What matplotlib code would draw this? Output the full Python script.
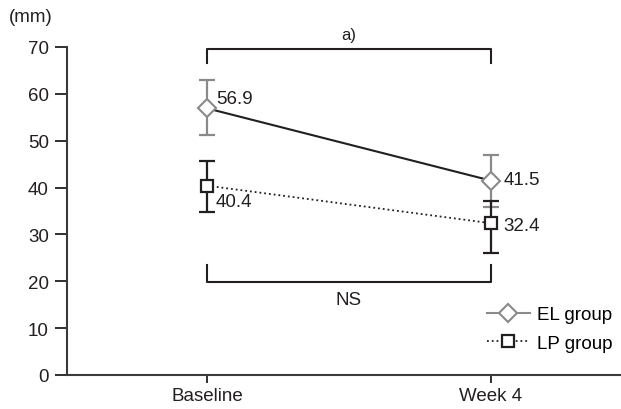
import numpy as np
import matplotlib.pyplot as plt

plt.rcParams['font.family'] = ['Liberation Sans', 'DejaVu Sans']

# Datos
groups = ["Baseline", "Week 4"]
el_mean = [56.9, 41.5]
el_lo = [5.6, 5.6]
el_hi = [6.1, 5.4]
lp_mean = [40.4, 32.4]
lp_lo = [5.6, 6.4]
lp_hi = [5.2, 4.8]
el_text = ["56.9", "41.5"]
lp_text = ["40.4", "32.4"]

x = np.arange(len(groups))
gris = "#8a8a8a"
negro = "#231f20"
fs = 13.5

fig = plt.figure(figsize=(6.21, 4.10), dpi=100)
ax = fig.add_axes([67/621, 34/410, 554/621, 328/410])

ax.errorbar(x, el_mean, yerr=[el_lo, el_hi], fmt="none", ecolor=gris,
            elinewidth=1.6, capsize=6, capthick=1.6, zorder=2)
ax.errorbar(x, lp_mean, yerr=[lp_lo, lp_hi], fmt="none", ecolor=negro,
            elinewidth=1.6, capsize=6, capthick=1.6, zorder=2)
ax.plot(x, el_mean, "-", color=negro, lw=1.5, zorder=3)
ax.plot(x, lp_mean, ":", color=negro, lw=1.3, zorder=3)
ax.plot(x, el_mean, "D", ms=9.5, mfc="white", mec=gris, mew=1.5, zorder=4)
ax.plot(x, lp_mean, "s", ms=8, mfc="white", mec=negro, mew=1.6, zorder=4)

# Etiquetas de valores
ax.text(x[0] + 0.03, el_mean[0] + 2.2, el_text[0], fontsize=fs, va="center", ha="left", color=negro)
ax.text(x[0] + 0.03, lp_mean[0] - 3.4, lp_text[0], fontsize=fs, va="center", ha="left", color=negro)
ax.text(x[1] + 0.045, el_mean[1] + 0.3, el_text[1], fontsize=fs, va="center", ha="left", color=negro)
ax.text(x[1] + 0.045, lp_mean[1] - 0.4, lp_text[1], fontsize=fs, va="center", ha="left", color=negro)

# Corchetes
ax.plot([0, 0, 1, 1], [66.5, 69.6, 69.6, 66.5], "-", color=negro, lw=1.5, clip_on=False)
ax.text(0.5, 72.6, "a)", fontsize=12, ha="center", va="center", color=negro)
ax.plot([0, 0, 1, 1], [23.5, 19.8, 19.8, 23.5], "-", color=negro, lw=1.5)
ax.text(0.5, 16.2, "NS", fontsize=fs, ha="center", va="center", color=negro)

# Leyenda
h1, = ax.plot([], [], "-", color=gris, lw=1.5, marker="D", ms=9.5, mfc="white", mec=gris, mew=1.5)
h2, = ax.plot([], [], ":", color=negro, lw=1.3, marker="s", ms=8, mfc="white", mec=negro, mew=1.6)
ax.legend([h1, h2], ["EL group", "LP group"], loc="upper right", bbox_to_anchor=(0.985, 0.21),
          frameon=False, fontsize=fs, handlelength=2.3, handletextpad=0.4, labelspacing=0.6,
          borderaxespad=0, borderpad=0)

ax.set_xlim(-0.495, 1.46)
ax.set_ylim(0, 70)
ax.set_xticks(x)
ax.set_xticklabels(groups, fontsize=fs)
ax.set_yticks(np.arange(0, 71, 10))
ax.tick_params(axis="y", length=9, width=1.3, labelsize=fs, colors=negro, pad=4)
ax.tick_params(axis="x", length=6, width=1.3, labelsize=fs, colors=negro, pad=3)
for s in ["top", "right"]:
    ax.spines[s].set_visible(False)
for s in ["left", "bottom"]:
    ax.spines[s].set_linewidth(1.5)
    ax.spines[s].set_color("#3a3a3a")
fig.text(9/621, 1 - 18/410, "(mm)", fontsize=fs, va="center", ha="left", color=negro)

fig.savefig("out.png", dpi=100)
